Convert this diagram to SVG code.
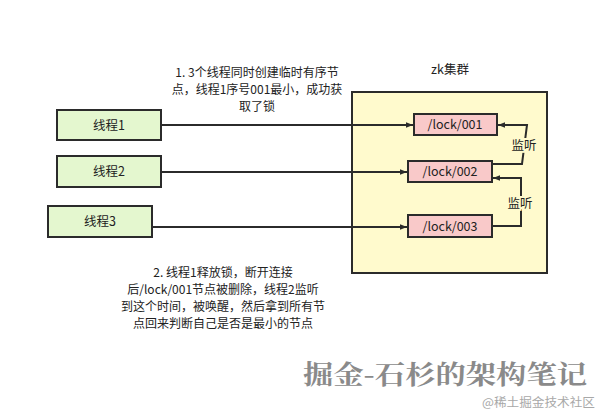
<svg xmlns="http://www.w3.org/2000/svg" width="609" height="419" viewBox="0 0 609 419">
<style>
text{font-family:"Noto Sans CJK SC","Noto Sans",sans-serif;fill:#222}
.t{font-size:12.5px;text-anchor:middle}
.n{font-size:12px;text-anchor:middle}
.thread{fill:#e4f7cf;stroke:#2b2b2b;stroke-width:2}
.lock{fill:#f9c9c9;stroke:#2b2b2b;stroke-width:2}
.conn{fill:none;stroke:#2b2b2b;stroke-width:2}
</style>
<defs>
<marker id="ah" viewBox="0 0 10 10" refX="10" refY="5" markerWidth="7" markerHeight="7" markerUnits="userSpaceOnUse" orient="auto"><path d="M0,1 L10,5 L0,9 z" fill="#2b2b2b"/></marker>
</defs>
<rect width="609" height="419" fill="#fff"/>
<g id="zk">
<rect x="352" y="92" width="195" height="181" fill="#fffacd" stroke="#2b2b2b" stroke-width="2"/>
<text x="450" y="74" class="t">zk集群</text>
</g>
<g id="thread1"><rect class="thread" x="57" y="110" width="104" height="30"/><text class="t" x="109" y="130">线程1</text></g>
<g id="thread2"><rect class="thread" x="57" y="156" width="104" height="31"/><text class="t" x="109" y="176">线程2</text></g>
<g id="thread3"><rect class="thread" x="48" y="206" width="104" height="31"/><text class="t" x="100" y="226">线程3</text></g>
<g id="lock001"><rect class="lock" x="414" y="114" width="83" height="21"/><text class="t" x="455" y="129">/lock/001</text></g>
<g id="lock002"><rect class="lock" x="408" y="161" width="84" height="21"/><text class="t" x="450" y="176">/lock/002</text></g>
<g id="lock003"><rect class="lock" x="408" y="215" width="84" height="22"/><text class="t" x="450" y="231">/lock/003</text></g>
<g id="connectors">
<path class="conn" marker-end="url(#ah)" d="M161,125 H413"/>
<path class="conn" marker-end="url(#ah)" d="M161,172 H407"/>
<path class="conn" marker-end="url(#ah)" d="M152,227 H407"/>
<path class="conn" marker-end="url(#ah)" d="M492,164 H522 L527,125 H498"/>
<path class="conn" marker-end="url(#ah)" d="M492,226 H521 V178 H493"/>
<text class="t" x="524" y="150" style="paint-order:stroke;stroke:#fffacd;stroke-width:4">监听</text>
<text class="t" x="520" y="208" style="paint-order:stroke;stroke:#fffacd;stroke-width:4">监听</text>
</g>
<g id="note1">
<text class="n" x="257" y="77">1. 3个线程同时创建临时有序节</text>
<text class="n" x="257" y="94">点，线程1序号001最小，成功获</text>
<text class="n" x="257" y="111">取了锁</text>
</g>
<g id="note2">
<text class="n" x="223" y="277">2. 线程1释放锁，断开连接</text>
<text class="n" x="223" y="294">后/lock/001节点被删除，线程2监听</text>
<text class="n" x="223" y="311">到这个时间，被唤醒，然后拿到所有节</text>
<text class="n" x="223" y="328">点回来判断自己是否是最小的节点</text>
</g>
<g id="watermark">
<text x="303" y="384" style="font-family:'Noto Serif CJK SC','Noto Sans CJK SC',serif;font-size:26px;font-weight:bold;fill:#8a8a8a" textLength="284" lengthAdjust="spacingAndGlyphs">掘金-石杉的架构笔记</text>
<text x="482" y="407" style="font-size:12px;fill:#a8a8a8" textLength="113" lengthAdjust="spacingAndGlyphs">@稀土掘金技术社区</text>
</g>
</svg>
